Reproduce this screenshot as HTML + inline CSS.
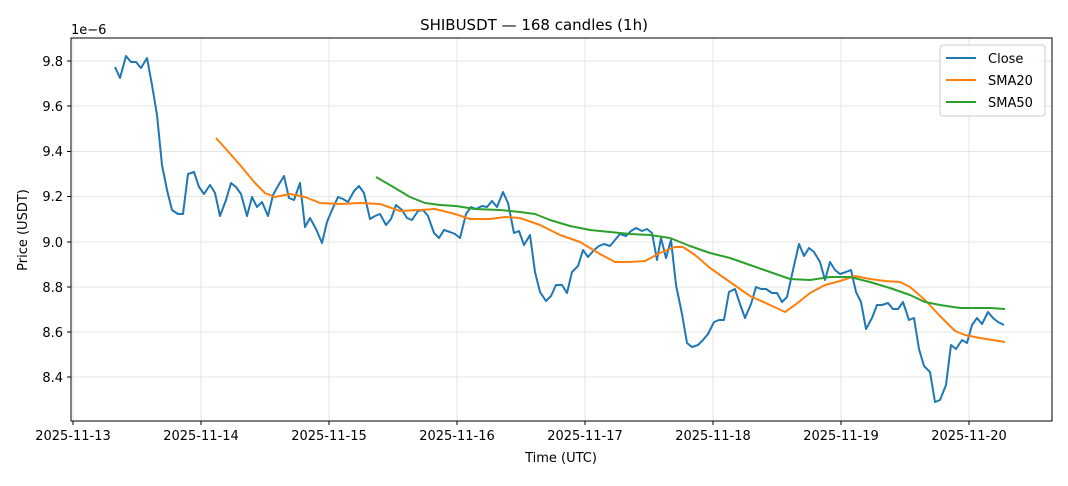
<!DOCTYPE html>
<html><head><meta charset="utf-8"><style>
body{margin:0;background:#fff;}
svg text{font-family:"DejaVu Sans","Liberation Sans",sans-serif;fill:#000;}
</style></head><body>
<svg width="1068" height="481" viewBox="0 0 1068 481" xmlns="http://www.w3.org/2000/svg">
<rect width="1068" height="481" fill="#fff"/>
<g stroke="#e5e5e5" stroke-width="1">
<line x1="73" y1="38" x2="73" y2="421"/><line x1="201" y1="38" x2="201" y2="421"/><line x1="329" y1="38" x2="329" y2="421"/><line x1="457" y1="38" x2="457" y2="421"/><line x1="585" y1="38" x2="585" y2="421"/><line x1="713" y1="38" x2="713" y2="421"/><line x1="841" y1="38" x2="841" y2="421"/><line x1="969" y1="38" x2="969" y2="421"/>
<line x1="71" y1="61" x2="1052" y2="61"/><line x1="71" y1="106" x2="1052" y2="106"/><line x1="71" y1="151.5" x2="1052" y2="151.5"/><line x1="71" y1="196.5" x2="1052" y2="196.5"/><line x1="71" y1="242" x2="1052" y2="242"/><line x1="71" y1="287" x2="1052" y2="287"/><line x1="71" y1="332" x2="1052" y2="332"/><line x1="71" y1="377" x2="1052" y2="377"/>
</g>
<polyline fill="none" stroke="#1f77b4" stroke-width="2" stroke-linejoin="round" points="115,67 120,78 126,56 131,62 136,62 141,68 147,58 152,85 157,115 162,165 167,190 172,210 178,214 183,214 188,174 194,172 199,187 204,194 210,185 215,193 220,216 226,200 231,183 236,187 241,194 247,216 252,197 257,207 262,202 268,216 273,195 278,186 284,176 289,198 294,200 300,183 305,227 310,218 316,229 322,243 327,222 332,210 338,197 343,199 348,202 354,191 359,186 364,193 370,219 375,216 380,214 386,225 391,219 396,205 402,210 407,218 412,220 418,211 423,210 428,216 434,233 439,238 444,230 450,232 455,234 460,238 466,214 471,207 476,209 482,206 487,207 492,201 497,207 503,192 508,203 514,233 519,231 524,245 530,235 535,272 540,292 546,301 551,296 556,285 562,285 567,293 572,272 578,266 583,250 588,257 594,250 599,246 604,244 610,246 615,240 620,234 626,236 631,231 636,228 642,231 647,229 652,233 657,260 661,238 666,258 671,240 676,285 682,314 687,343 692,347 698,345 703,340 708,334 714,322 719,320 724,320 729,292 735,289 740,304 745,318 751,304 756,287 761,289 766,289 772,293 777,293 782,302 787,297 793,270 799,244 804,256 809,248 814,252 820,262 825,280 830,262 835,270 840,274 846,272 851,270 856,292 861,302 866,329 872,318 877,305 882,305 888,303 893,309 898,309 903,302 909,320 914,318 919,349 924,366 930,372 935,402 940,400 946,385 951,345 956,349 962,340 967,343 972,325 977,318 982,324 988,312 993,318 998,322 1004,325"/>
<polyline fill="none" stroke="#ff7f0e" stroke-width="2" stroke-linejoin="round" points="216,138 225,148 240,165 255,183 265,193 275,197 290,194 305,197 320,203 340,204 360,203 380,204 400,211 420,210 435,209 455,214 470,219 490,219 505,217 520,218 540,225 560,235 580,242 600,254 615,262 630,262 645,261 660,253 675,247 683,247 695,255 710,268 730,282 750,296 770,305 785,312 795,305 810,293 825,285 840,281 855,276 870,279 885,281 900,282 910,287 925,300 940,316 955,331 965,335 980,338 1005,342"/>
<polyline fill="none" stroke="#2ca02c" stroke-width="2" stroke-linejoin="round" points="376,177 395,188 410,197 425,203 440,205 456,206 475,209 500,210 520,212 535,214 550,220 570,226 590,230 610,232 630,234 650,235 670,238 690,246 710,253 730,258 750,265 770,272 790,279 810,280 830,277 850,277 870,282 890,288 910,295 925,302 940,305 960,308 990,308 1005,309"/>
<rect x="71" y="38" width="981" height="383" fill="none" stroke="#000" stroke-width="1"/>
<g stroke="#000"><line x1="73" y1="421" x2="73" y2="425"/><line x1="201" y1="421" x2="201" y2="425"/><line x1="329" y1="421" x2="329" y2="425"/><line x1="457" y1="421" x2="457" y2="425"/><line x1="585" y1="421" x2="585" y2="425"/><line x1="713" y1="421" x2="713" y2="425"/><line x1="841" y1="421" x2="841" y2="425"/><line x1="969" y1="421" x2="969" y2="425"/>
<line x1="67" y1="61" x2="71" y2="61"/><line x1="67" y1="106" x2="71" y2="106"/><line x1="67" y1="151.5" x2="71" y2="151.5"/><line x1="67" y1="196.5" x2="71" y2="196.5"/><line x1="67" y1="242" x2="71" y2="242"/><line x1="67" y1="287" x2="71" y2="287"/><line x1="67" y1="332" x2="71" y2="332"/><line x1="67" y1="377" x2="71" y2="377"/></g>
<g font-size="13" text-anchor="middle">
<text x="73" y="440">2025-11-13</text><text x="201" y="440">2025-11-14</text><text x="329" y="440">2025-11-15</text><text x="457" y="440">2025-11-16</text><text x="585" y="440">2025-11-17</text><text x="713" y="440">2025-11-18</text><text x="841" y="440">2025-11-19</text><text x="969" y="440">2025-11-20</text>
<text x="561" y="462">Time (UTC)</text>
<text x="534" y="30" font-size="15">SHIBUSDT — 168 candles (1h)</text>
</g>
<g font-size="13" text-anchor="end">
<text x="63" y="66">9.8</text><text x="63" y="111">9.6</text><text x="63" y="156">9.4</text><text x="63" y="201">9.2</text><text x="63" y="247">9.0</text><text x="63" y="292">8.8</text><text x="63" y="337">8.6</text><text x="63" y="382">8.4</text>
</g>
<text x="71" y="34" font-size="13">1e−6</text>
<text transform="translate(27,230) rotate(-90)" font-size="13" text-anchor="middle">Price (USDT)</text>
<rect x="940" y="45" width="105" height="71" rx="3" fill="#fff" fill-opacity="0.8" stroke="#ccc"/>
<line x1="946" y1="58" x2="976" y2="58" stroke="#1f77b4" stroke-width="2"/>
<line x1="946" y1="80" x2="976" y2="80" stroke="#ff7f0e" stroke-width="2"/>
<line x1="946" y1="102" x2="976" y2="102" stroke="#2ca02c" stroke-width="2"/>
<g font-size="13"><text x="988" y="63">Close</text><text x="988" y="85">SMA20</text><text x="988" y="107">SMA50</text></g>
</svg>
</body></html>
